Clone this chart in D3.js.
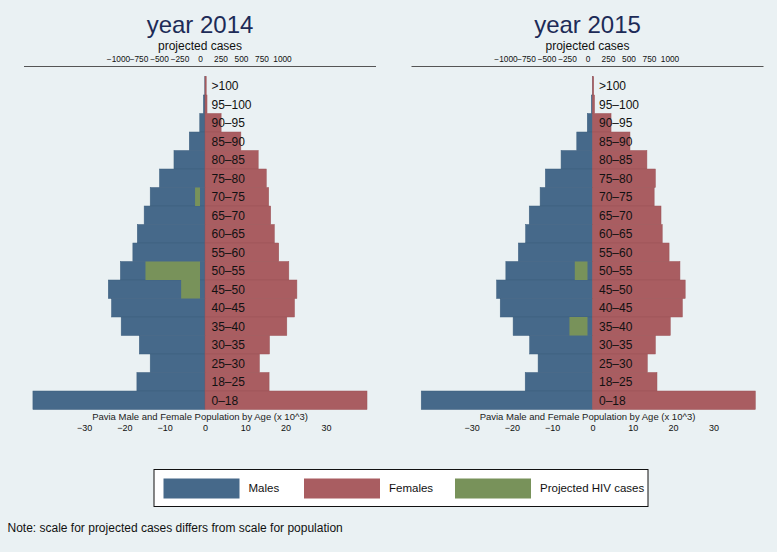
<!DOCTYPE html>
<html>
<head>
<meta charset="utf-8">
<script src="https://cdn.jsdelivr.net/npm/d3@7"></script>
<style>
  body { margin: 0; background: #eaf1f3; }
  svg { display: block; font-family: "Liberation Sans", Arial, Helvetica, sans-serif; }
</style>
</head>
<body>
<svg id="chart" width="777" height="552"></svg>
<script>
// age groups, top to bottom
var ageGroups = ['>100','95–100','90–95','85–90','80–85','75–80','70–75','65–70','60–65',
                 '55–60','50–55','45–50','40–45','35–40','30–35','25–30','18–25','0–18'];

// population in thousands
var males2014   = [0.05, 0.4, 1.3, 3.9, 7.7, 11.3, 13.6, 15.1, 16.8, 17.9, 21.0, 24.0, 23.2, 20.8, 16.3, 13.6, 16.9, 42.7];
var females2014 = [0.3, 0.5, 4.0, 8.9, 13.2, 15.2, 15.8, 16.3, 17.2, 18.3, 20.8, 22.8, 22.2, 20.3, 16.0, 13.5, 15.9, 40.2];
var males2015   = [0.05, 0.3, 1.3, 3.9, 7.8, 11.7, 13.0, 15.7, 16.6, 18.4, 21.5, 23.8, 22.9, 19.7, 15.6, 13.5, 16.7, 42.5];
var females2015 = [0.3, 0.5, 4.6, 9.3, 13.5, 15.6, 15.3, 17.0, 17.3, 19.0, 21.7, 23.0, 22.3, 19.3, 15.6, 13.6, 16.0, 40.4];

// projected HIV cases
var hiv2014 = [0, 0, 0, 0, 0, 0, 60, 0, 0, 0, 665, 230, 0, 0, 0, 0, 0, 0];
var hiv2015 = [0, 0, 0, 0, 0, 0, 0, 0, 0, 0, 155, 0, 0, 220, 0, 0, 0, 0];

var popTicks = [-30, -20, -10, 0, 10, 20, 30];
var hivTicks = [-1000, -750, -500, -250, 0, 250, 500, 750, 1000];

var colMale = '#46698a', colFemale = '#a95d61', colHiv = '#78925a';

var svg = d3.select('#chart');
svg.append('rect').attr('width', 777).attr('height', 552).attr('fill', '#eaf1f3');

function minus(v){ return String(v).replace('-', '\u2212'); }

function drawPanel(dx, year, males, females, hiv){
    var g = svg.append('g').attr('transform', 'translate(' + dx + ',0)');

    var x = d3.scaleLinear().domain([-30, 30]).range([84.1, 325.9]);
    var xh = d3.scaleLinear().domain([-1000, 1000]).range([118, 282]);
    var y = d3.scaleBand().domain(ageGroups).range([76.5, 409.5]).padding(0);

    // title
    g.append('text').attr('x', 200).attr('y', 33).attr('text-anchor', 'middle')
        .attr('font-size', 24).attr('fill', '#1d2b57').text('year ' + year);
    g.append('text').attr('x', 200).attr('y', 50).attr('text-anchor', 'middle')
        .attr('font-size', 12).attr('fill', '#111').text('projected cases');

    // top axis (projected cases)
    var topAxis = d3.axisTop(xh).tickValues(hivTicks).tickSize(0).tickPadding(0)
        .tickFormat(function(d){ return minus(d); });
    var ta = g.append('g').attr('transform', 'translate(0,62)').call(topAxis);
    ta.select('.domain').remove();
    ta.selectAll('text').attr('font-size', 8.3).attr('fill', '#111')
        .attr('font-family', '"Liberation Sans", Arial, sans-serif');
    g.append('line').attr('x1', 24).attr('x2', 376).attr('y1', 66.5).attr('y2', 66.5)
        .attr('stroke', '#555').attr('stroke-width', 1.2);

    // bars
    g.selectAll('rect.m').data(males).enter().append('rect').attr('class', 'm')
        .attr('x', function(d){ return x(-d); })
        .attr('width', function(d){ return x(0) - x(-d); })
        .attr('y', function(d, i){ return y(ageGroups[i]); })
        .attr('height', y.bandwidth())
        .attr('fill', colMale).attr('stroke', '#3d5f7e').attr('stroke-width', 0.5);
    g.selectAll('rect.f').data(females).enter().append('rect').attr('class', 'f')
        .attr('x', x(0))
        .attr('width', function(d){ return x(d) - x(0); })
        .attr('y', function(d, i){ return y(ageGroups[i]); })
        .attr('height', y.bandwidth())
        .attr('fill', colFemale).attr('stroke', '#9c5357').attr('stroke-width', 0.5);
    g.selectAll('rect.h').data(hiv).enter().append('rect').attr('class', 'h')
        .filter(function(d){ return d > 0; })
        .attr('x', function(d){ return xh(-d); })
        .attr('width', function(d){ return xh(0) - xh(-d); })
        .attr('y', function(d){ return y(ageGroups[hiv.indexOf(d)]); })
        .attr('height', y.bandwidth())
        .attr('fill', colHiv);

    // age labels
    g.selectAll('text.age').data(ageGroups).enter().append('text').attr('class', 'age')
        .attr('x', x(0) + 6.5)
        .attr('y', function(d){ return y(d) + y.bandwidth() / 2 + 4.3; })
        .attr('font-size', 12).attr('fill', '#111').text(function(d){ return d; });

    // bottom axis (population)
    g.append('text').attr('x', 200).attr('y', 420).attr('text-anchor', 'middle')
        .attr('font-size', 9.5).attr('fill', '#222')
        .text('Pavia Male and Female Population by Age (x 10^3)');
    var botAxis = d3.axisBottom(x).tickValues(popTicks).tickSize(0).tickPadding(0)
        .tickFormat(function(d){ return minus(d); });
    var ba = g.append('g').attr('transform', 'translate(0,425)').call(botAxis);
    ba.select('.domain').remove();
    ba.selectAll('text').attr('font-size', 9).attr('fill', '#111')
        .attr('font-family', '"Liberation Sans", Arial, sans-serif');
}

drawPanel(0, 2014, males2014, females2014, hiv2014);
drawPanel(387.5, 2015, males2015, females2015, hiv2015);

// legend
var legendItems = [
    { label: 'Males', color: colMale, x: 163.5 },
    { label: 'Females', color: colFemale, x: 304 },
    { label: 'Projected HIV cases', color: colHiv, x: 455 }
];
var lg = svg.append('g');
lg.append('rect').attr('x', 154).attr('y', 469.5).attr('width', 494).attr('height', 37)
    .attr('fill', '#fff').attr('stroke', '#111').attr('stroke-width', 1);
var li = lg.selectAll('g.item').data(legendItems).enter().append('g').attr('class', 'item');
li.append('rect').attr('x', function(d){ return d.x; }).attr('y', 478.5)
    .attr('width', 76).attr('height', 20).attr('fill', function(d){ return d.color; });
li.append('text').attr('x', function(d){ return d.x + 85; }).attr('y', 492)
    .attr('font-size', 11.5).attr('fill', '#111').text(function(d){ return d.label; });

svg.append('text').attr('x', 7.5).attr('y', 532).attr('font-size', 12).attr('fill', '#111')
    .text('Note: scale for projected cases differs from scale for population');
</script>
</body>
</html>
